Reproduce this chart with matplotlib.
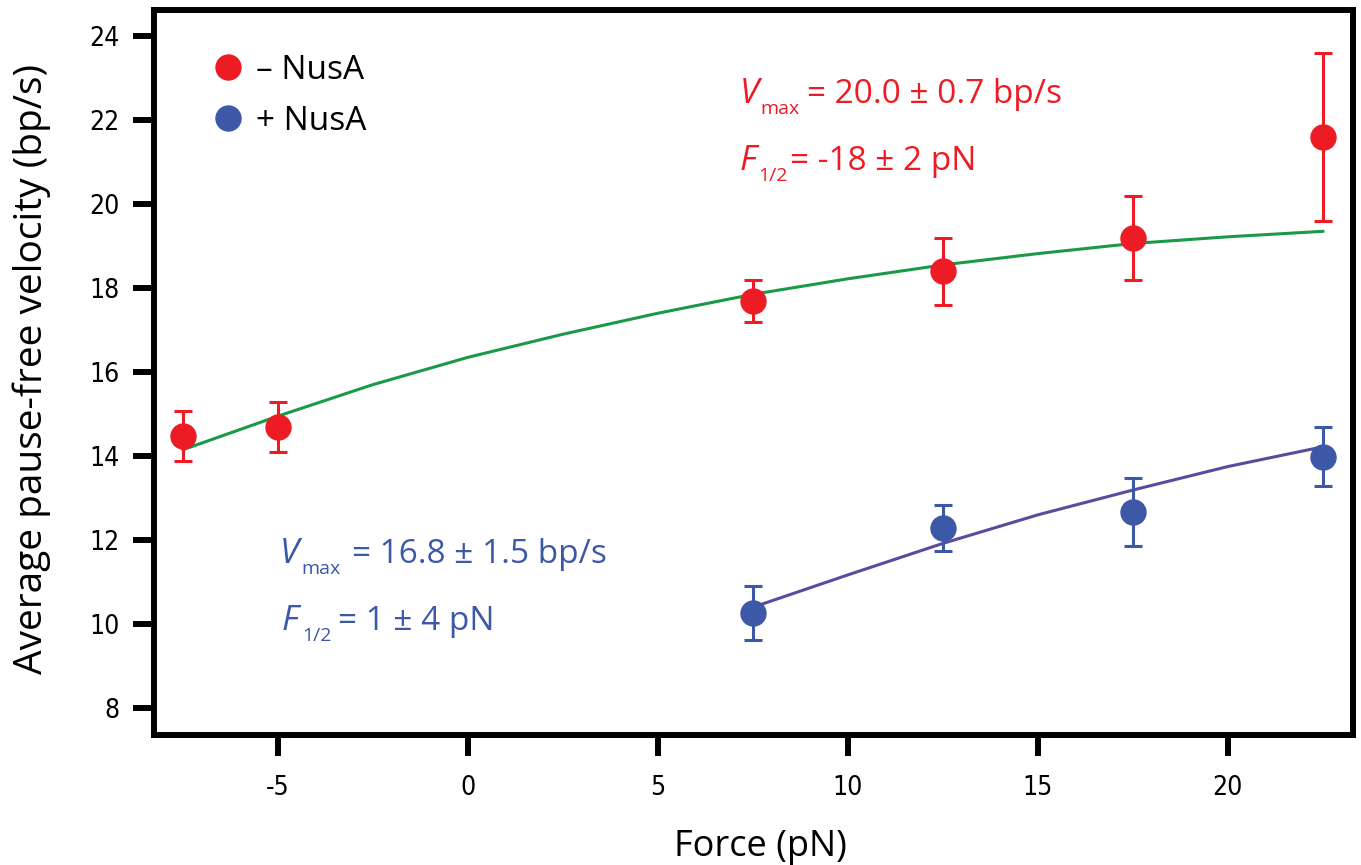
import matplotlib
matplotlib.use("Agg")
import matplotlib.pyplot as plt
from matplotlib.lines import Line2D
from matplotlib import font_manager

# ---------------- data ----------------
force_minus = [-7.5, -5, 7.5, 12.5, 17.5, 22.5]
vel_minus = [14.48, 14.69, 17.70, 18.40, 19.18, 21.60]
err_minus = [0.6, 0.6, 0.5, 0.8, 1.0, 2.0]

force_plus = [7.5, 12.5, 17.5, 22.5]
vel_plus = [10.27, 12.29, 12.67, 13.98]
err_plus = [0.64, 0.54, 0.80, 0.70]

# fit curves
fit_minus_x = [-7.5, -5, -2.5, 0, 2.5, 5, 7.5, 10, 12.5, 15, 17.5, 20, 22.5]
fit_minus_y = [14.15, 14.95, 15.70, 16.35, 16.90, 17.40, 17.85, 18.22, 18.55, 18.82, 19.06, 19.22, 19.35]
fit_plus_x = [7.5, 10, 12.5, 15, 17.5, 20, 22.5]
fit_plus_y = [10.40, 11.17, 11.92, 12.60, 13.19, 13.75, 14.22]

x_ticks = [-5, 0, 5, 10, 15, 20]
y_ticks = [8, 10, 12, 14, 16, 18, 20, 22, 24]

labels = ["\u2013 NusA", "+ NusA"]
# annotation pieces: (symbol, subscript, rest)
ann_minus = [("V", "max", "= 20.0 \u00b1 0.7 bp/s"), ("F", "1/2", "= -18 \u00b1 2 pN")]
ann_plus = [("V", "max", "= 16.8 \u00b1 1.5 bp/s"), ("F", "1/2", "= 1 \u00b1 4 pN")]

# ---------------- style ----------------
RED = "#ED1C24"
BLUE = "#3D58A7"
GREEN = "#1A9A48"
PURPLE = "#5C4A9E"

avail = {f.name for f in font_manager.fontManager.ttflist}
main_font = "Open Sans" if "Open Sans" in avail else "DejaVu Sans"

plt.rcParams["font.family"] = [main_font, "DejaVu Sans"]

W, H = 1361, 865
fig = plt.figure(figsize=(W / 100, H / 100), dpi=100)
ax = fig.add_axes([154 / W, 1 - 734.5 / H, (1352.5 - 154) / W, (734.5 - 10) / H])

ax.plot(fit_minus_x, fit_minus_y, color=GREEN, lw=2.2, zorder=2)
ax.plot(fit_plus_x, fit_plus_y, color=PURPLE, lw=2.2, zorder=2)

ax.errorbar(force_minus, vel_minus, yerr=err_minus, fmt="o", color=RED, ms=18,
            mec=RED, elinewidth=2.2, capsize=6.5, capthick=2.2, zorder=3)
ax.errorbar(force_plus, vel_plus, yerr=err_plus, fmt="o", color=BLUE, ms=18,
            mec=BLUE, elinewidth=2.2, capsize=6.5, capthick=2.2, zorder=3)

ax.set_xlim(-8.26, 23.28)
ax.set_ylim(7.37, 24.62)
ax.set_xticks(x_ticks)
ax.set_yticks(y_ticks)
tick_kw = dict(fontfamily="DejaVu Sans", fontstretch="condensed", fontsize=19)
ax.set_xticklabels([str(t) for t in x_ticks], **tick_kw)
ax.set_yticklabels([str(t) for t in y_ticks], **tick_kw)
ax.tick_params(axis="both", direction="out", length=15, width=4.3)
ax.tick_params(axis="x", pad=14)
ax.tick_params(axis="y", pad=10)
for s in ax.spines.values():
    s.set_linewidth(4.3)

ax.set_xlabel("Force (pN)", fontsize=26)
ax.set_ylabel("Average pause-free velocity (bp/s)", fontsize=28)
ax.xaxis.set_label_coords(0.5056, -0.130)
ax.yaxis.set_label_coords(-0.086, 0.505)

handles = [Line2D([], [], ls="none", marker="o", ms=18, color=RED),
           Line2D([], [], ls="none", marker="o", ms=18, color=BLUE)]
ax.legend(handles, labels, loc="upper left", bbox_to_anchor=(0.034, 0.958),
          frameon=False, fontsize=24, handletextpad=0.25, labelspacing=0.55,
          handlelength=1.2, borderaxespad=0)


def put(x, y, s, color, size, style="normal"):
    fig.text(x / W, 1 - y / H, s, color=color, fontsize=size, va="baseline",
             ha="left", style=style)


# annotation pieces placed at pixel positions measured on the reference
red_pos = [(740, 760, 807, 103), (740, 758, 790, 170)]
for (sym, sub, rest), (xs, xb, xr, yb) in zip(ann_minus, red_pos):
    put(xs, yb, sym, RED, 25, "italic")
    put(xb, yb + 11, sub, RED, 14)
    put(xr, yb, rest, RED, 24)

blue_pos = [(280, 301, 352, 563), (282, 302, 338, 630)]
for (sym, sub, rest), (xs, xb, xr, yb) in zip(ann_plus, blue_pos):
    put(xs, yb, sym, BLUE, 25, "italic")
    put(xb, yb + 11, sub, BLUE, 14)
    put(xr, yb, rest, BLUE, 24)

fig.savefig("out.png", dpi=100)
